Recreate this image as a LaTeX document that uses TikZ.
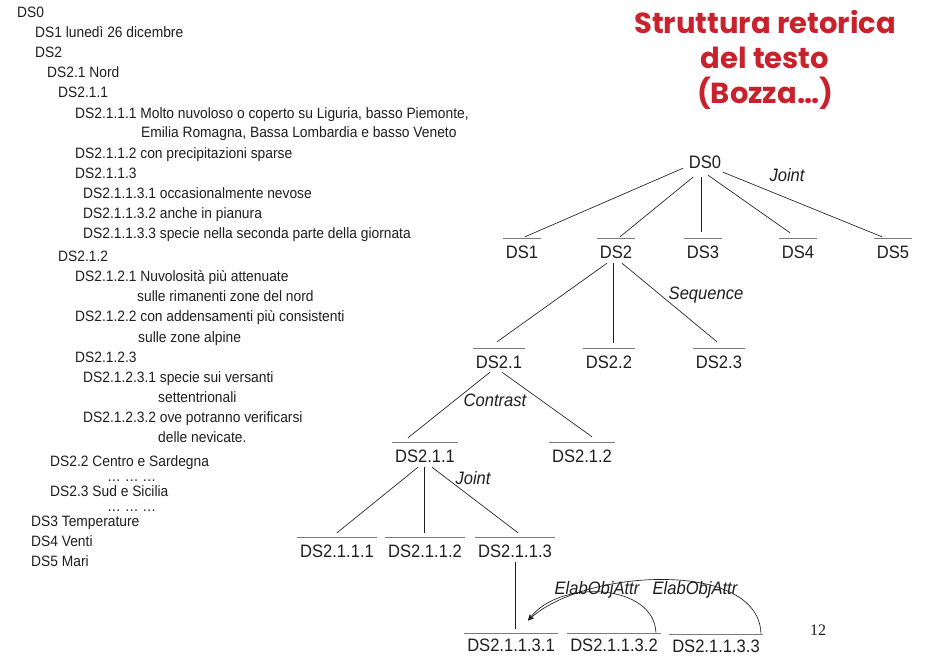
\documentclass[tikz,border=0pt]{standalone}
\usepackage{fontspec}
\setmainfont[FakeStretch=0.92]{Liberation Sans}
\newfontfamily\titlefont{Poppins}
\newfontfamily\numfont{Liberation Serif}
\usetikzlibrary{arrows.meta}
\definecolor{txt}{HTML}{1E1E1E}
\definecolor{ovl}{HTML}{7A7A7A}
\definecolor{titlered}{RGB}{200,35,45}
\begin{document}
\begin{tikzpicture}[x=1pt,y=-1pt,
  litem/.style={anchor=west,inner sep=0pt,text height=11pt,text depth=3pt,
    font=\fontsize{15}{17}\selectfont,text=txt},
  dsplain/.style={inner xsep=3pt,inner ysep=3pt,text height=16.5pt,text depth=1.5pt,
    font=\fontsize{18}{20}\selectfont,text=txt},
  ds/.style={dsplain,
    append after command={(\tikzlastnode.north west) edge[draw=ovl,line width=0.9pt] (\tikzlastnode.north east)}},
  dslow/.style={ds,text height=15pt},
  rel/.style={font=\fontsize{18}{20}\selectfont\itshape,text=txt,inner sep=1pt},
  conn/.style={draw=txt,line width=0.65pt},
  arc/.style={draw=txt,line width=0.65pt,-{Stealth[length=6pt,width=5pt]}}]
\path[use as bounding box,fill=white] (0,0) rectangle (930,656);

% left outline
\node[litem] (l0) at (17,13) {DS0};
\node[litem] (l1) at (35,33) {DS1 lunedì 26 dicembre};
\node[litem] (l2) at (35,53) {DS2};
\node[litem] (l21) at (47,73) {DS2.1 Nord};
\node[litem] (l211) at (58,93) {DS2.1.1};
\node[litem] (l2111) at (75,114) {DS2.1.1.1 Molto nuvoloso o coperto su Liguria, basso Piemonte,};
\node[litem] (l2111b) at (141,133) {Emilia Romagna, Bassa Lombardia e basso Veneto};
\node[litem] (l2112) at (75,154) {DS2.1.1.2 con precipitazioni sparse};
\node[litem] (l2113) at (75,174) {DS2.1.1.3};
\node[litem] (l21131) at (83,194) {DS2.1.1.3.1 occasionalmente nevose};
\node[litem] (l21132) at (83,214) {DS2.1.1.3.2 anche in pianura};
\node[litem] (l21133) at (83,234) {DS2.1.1.3.3 specie nella seconda parte della giornata};
\node[litem] (l212) at (58,257) {DS2.1.2};
\node[litem] (l2121) at (75,277) {DS2.1.2.1 Nuvolosità più attenuate};
\node[litem] (l2121b) at (137,297) {sulle rimanenti zone del nord};
\node[litem] (l2122) at (75,317) {DS2.1.2.2 con addensamenti più consistenti};
\node[litem] (l2122b) at (138,338) {sulle zone alpine};
\node[litem] (l2123) at (75,358) {DS2.1.2.3};
\node[litem] (l21231) at (83,378) {DS2.1.2.3.1 specie sui versanti};
\node[litem] (l21231b) at (158,398) {settentrionali};
\node[litem] (l21232) at (83,418) {DS2.1.2.3.2 ove potranno verificarsi};
\node[litem] (l21232b) at (158,438) {delle nevicate.};
\node[litem] (l22) at (50,462) {DS2.2 Centro e Sardegna};
\node[litem] (ld1) at (107,477) {… … …};
\node[litem] (l23) at (50,492) {DS2.3 Sud e Sicilia};
\node[litem] (ld2) at (107,507) {… … …};
\node[litem] (l3) at (31,522) {DS3 Temperature};
\node[litem] (l4) at (31,542) {DS4 Venti};
\node[litem] (l5) at (31,562) {DS5 Mari};

% title
\node[align=center,text=titlered,font=\titlefont\fontsize{29}{35}\selectfont\bfseries] (title) at (765,60)
  {Struttura retorica\\del testo\\(Bozza…)};

% tree
\node[dsplain] (s0) at (705,161) {DS0};
\node[ds] (s1) at (522,251) {DS1};
\node[ds] (s2) at (616,251) {DS2};
\node[ds] (s3) at (703,251) {DS3};
\node[ds] (s4) at (798,251) {DS4};
\node[ds] (s5) at (893,251) {DS5};
\node[ds] (s21) at (499,361) {DS2.1};
\node[ds] (s22) at (609,361) {DS2.2};
\node[ds] (s23) at (719,361) {DS2.3};
\node[ds] (s211) at (425,455) {DS2.1.1};
\node[ds] (s212) at (582,455) {DS2.1.2};
\node[ds] (s2111) at (337,550) {DS2.1.1.1};
\node[ds] (s2112) at (425,550) {DS2.1.1.2};
\node[ds] (s2113) at (515,550) {DS2.1.1.3};
\node[dslow] (s31) at (511,645) {DS2.1.1.3.1};
\node[dslow] (s32) at (614,645) {DS2.1.1.3.2};
\node[dslow] (s33) at (716,646) {DS2.1.1.3.3};

\draw[conn] ([xshift=-22pt,yshift=5pt]s0.south) -- ([xshift=3pt,yshift=2pt]s1.north);
\draw[conn] ([xshift=-12pt,yshift=-4pt]s0.south) -- ([xshift=4pt,yshift=2pt]s2.north);
\draw[conn] ([xshift=-4pt,yshift=-4pt]s0.south) -- ([xshift=-2pt,yshift=7pt]s3.north);
\draw[conn] ([xshift=3pt,yshift=-2pt]s0.south) -- ([xshift=-8pt,yshift=6pt]s4.north);
\draw[conn] ([xshift=18pt,yshift=1pt]s0.south) -- ([xshift=-11pt,yshift=2pt]s5.north);

\draw[conn] ([xshift=-9pt]s2.south) -- ([xshift=-2pt,yshift=7pt]s21.north);
\draw[conn] ([xshift=-3pt]s2.south) -- ([xshift=4pt,yshift=6pt]s22.north);
\draw[conn] ([xshift=6pt]s2.south) -- ([xshift=-2pt,yshift=7pt]s23.north);

\draw[conn] ([xshift=-9pt,yshift=1pt]s21.south) -- ([xshift=-17pt,yshift=5pt]s211.north);
\draw[conn] ([xshift=3pt,yshift=1pt]s21.south) -- ([xshift=10pt,yshift=6pt]s212.north);

\draw[conn] ([xshift=-7pt]s211.south) -- ([yshift=5pt]s2111.north);
\draw[conn] ([xshift=-1pt]s211.south) -- ([xshift=-1pt,yshift=5pt]s2112.north);
\draw[conn] ([xshift=7pt]s211.south) -- ([xshift=3pt,yshift=5pt]s2113.north);

\draw[conn] (s2113.south) -- ([xshift=4pt,yshift=5pt]s31.north);

\draw[arc] ([xshift=-5pt,yshift=1pt]s32.north east) .. controls +(-2,-49) and +(32,-42) .. ([xshift=17pt,yshift=13pt]s31.north);
\draw[arc] ([xshift=-2pt,yshift=1pt]s33.north east) .. controls +(-2,-74) and +(57,-52) .. ([xshift=17pt,yshift=13pt]s31.north);

% relation labels
\node[rel] (jt) at (787,175) {Joint};
\node[rel] (sq) at (706,295) {Sequence};
\node[rel] (ct) at (495,400) {Contrast};
\node[rel] (jt2) at (473,478) {Joint};
\node[rel] (ea1) at (597,590) {ElabObjAttr};
\node[rel] (ea2) at (695,590) {ElabObjAttr};

\node[font=\numfont\fontsize{16}{18}\selectfont,text=txt] (pg) at (818,630) {12};
\end{tikzpicture}
\end{document}
